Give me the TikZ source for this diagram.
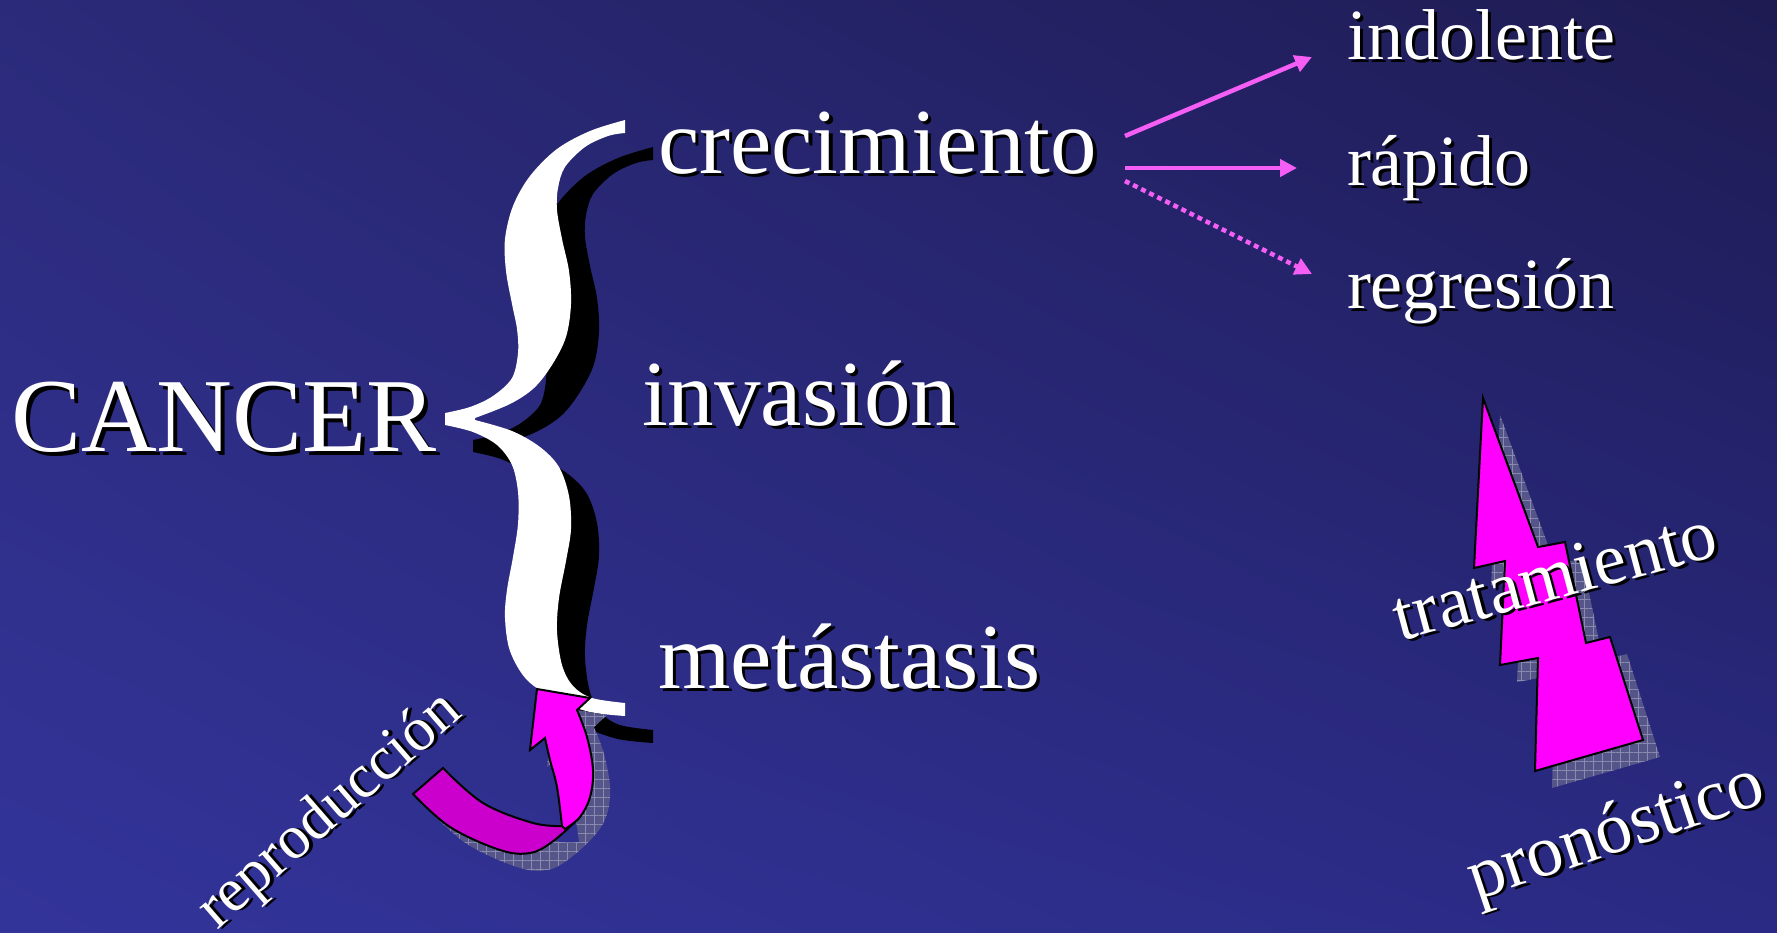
\documentclass[tikz,border=0pt]{standalone}
\usepackage{fontspec}
\setmainfont{Liberation Serif}
\usetikzlibrary{arrows.meta,patterns.meta,shadings}
\definecolor{bgTL}{HTML}{2B2A7A}
\definecolor{bgTR}{HTML}{1E1B52}
\definecolor{bgBL}{HTML}{33349A}
\definecolor{bgBR}{HTML}{2A2A84}
\definecolor{mag}{HTML}{FF00FF}
\definecolor{magdark}{HTML}{CC00CC}
\definecolor{pinkline}{HTML}{F55EF5}
\definecolor{shadowbase}{HTML}{55558A}
\definecolor{shadowgrid}{HTML}{8A8AAE}
\newcommand\shd[2]{\makebox[0pt][l]{\kern#1\raisebox{-#1}{\color{black}#2}}#2}
\begin{document}
\begin{tikzpicture}[x=1pt,y=-1pt,
  txt/.style={anchor=base west,inner sep=0pt,outer sep=0pt,text=white},
  hugefont/.style={font=\fontsize{105}{110}\selectfont},
  bigfont/.style={font=\fontsize{93}{100}\selectfont},
  midfont/.style={font=\fontsize{72}{80}\selectfont},
  rotfont/.style={font=\fontsize{73}{80}\selectfont},
  smallfont/.style={font=\fontsize{62}{70}\selectfont},
  pinkarrow/.style={draw=pinkline,line width=4.5pt,-{Triangle[length=17pt,width=17pt]}},
  shapeshadow/.style={fill=shadowbase,postaction={pattern={Hatch[angle=0,distance=9pt,line width=0.7pt]},pattern color=shadowgrid}},
  shapeline/.style={draw=black,line width=2pt,line join=miter}
]
\useasboundingbox (0,0) rectangle (1777,932);
\shade[upper left=bgTL,upper right=bgTR,lower left=bgBL,lower right=bgBR] (0,0) rectangle (1777,932);

% brace (shadow then white)
\foreach \dx/\dy/\c in {28/27/black,0/0/white}{
\fill[\c,shift={(\dx,\dy)}]
  plot[smooth,tension=0.55] coordinates {(625,120) (590,131) (557,149) (530,176) (513,206) (505,239) (506,271) (512,304) (517,329) (518,353) (512,378) (493,396) (470,407) (445,413)}
  -- plot[smooth,tension=0.55] coordinates {(445,425) (473,432) (497,445) (512,465) (518,492) (518,524) (513,557) (507,590) (505,618) (510,651) (527,680) (557,700) (590,712) (625,716)}
  -- plot[smooth,tension=0.55] coordinates {(625,703) (592,698) (573,686) (562,665) (557,631) (559,598) (566,561) (571,529) (569,496) (559,467) (540,447) (512,431) (475,420)}
  -- plot[smooth,tension=0.55] coordinates {(475,418) (510,404) (534,388) (552,365) (566,337) (571,304) (569,271) (562,239) (557,210) (558,188) (565,167) (585,147) (608,136) (625,133)}
  -- cycle;
}

% curved arrow shadow
\begin{scope}[shift={(17,17)}]
\path[shapeshadow]
  (413,794) -- plot[smooth,tension=0.6] coordinates {(443,768) (483,803) (533,823) (562,825)}
  -- (557,787) -- (550,760) -- (545,738) -- (530,750) -- (537,689) -- (590,698) -- (577,710)
  -- plot[smooth,tension=0.6] coordinates {(577,710) (587,737) (593,770) (590,797) (578,818) (552,842) (530,853) (500,850) (450,827) (413,794)} -- cycle;
\end{scope}
% curved arrow: dark band
\path[fill=magdark,shapeline]
  (413,794) -- plot[smooth,tension=0.6] coordinates {(443,768) (483,803) (533,823) (563,826)}
  -- plot[smooth,tension=0.6] coordinates {(576,821) (552,842) (530,853) (500,850) (450,827) (413,794)} -- cycle;
% curved arrow: bright part with head
\path[fill=mag,shapeline]
  plot[smooth,tension=0.6] coordinates {(562,826) (557,787) (550,760) (545,738)}
  -- (530,750) -- (537,689) -- (590,698) -- (577,710)
  -- plot[smooth,tension=0.6] coordinates {(577,710) (587,737) (593,770) (590,797) (580,817) (565,829)} -- cycle;

% lightning
\begin{scope}[xshift=-7pt]
\path[shapeshadow,shift={(17,17)}]
  (1490,398) -- (1481,568) -- (1512,561) -- (1507,665) -- (1545,658) -- (1542,771) -- (1650,740) -- (1617,637) -- (1593,643) -- (1572,542) -- (1545,547) -- cycle;
\path[fill=mag,shapeline]
  (1490,398) -- (1481,568) -- (1512,561) -- (1507,665) -- (1545,658) -- (1542,771) -- (1650,740) -- (1617,637) -- (1593,643) -- (1572,542) -- (1545,547) -- cycle;
\end{scope}

% texts
\node[txt,hugefont] (cancer) at (11,451) {\shd{4pt}{CANCER}};
\node[txt,bigfont] (crec) at (658,173) {\shd{3.5pt}{crecimiento}};
\node[txt,bigfont] (inv) at (642,425) {\shd{3.5pt}{invasión}};
\node[txt,bigfont] (meta) at (658,688) {\shd{3.5pt}{metástasis}};
\node[txt,midfont] (indo) at (1347,59) {\shd{3pt}{indolente}};
\node[txt,midfont] (rapi) at (1347,185) {\shd{3pt}{rápido}};
\node[txt,midfont] (regr) at (1347,308) {\shd{3pt}{regresión}};
\node[txt,rotfont,rotate=15] (trat) at (1400,641) {\shd{3pt}{tratamiento}};
\node[txt,rotfont,rotate=18.5] (pron) at (1476,900) {\shd{3pt}{pronóstico}};
\node[txt,smallfont,rotate=41] (repr) at (217,930) {\shd{3pt}{reproducción}};

% arrows from crecimiento
\coordinate (s1) at (1125,136);
\coordinate (e1) at (1312,57);
\coordinate (s2) at (1125,168);
\coordinate (e2) at (1297,168);
\coordinate (s3) at (1125,181);
\coordinate (e3) at (1312,274);
\draw[pinkarrow] (s1) -- (e1);
\draw[pinkarrow] (s2) -- (e2);
\draw[pinkarrow,dash pattern=on 5pt off 4pt] (s3) -- (e3);
\end{tikzpicture}
\end{document}
